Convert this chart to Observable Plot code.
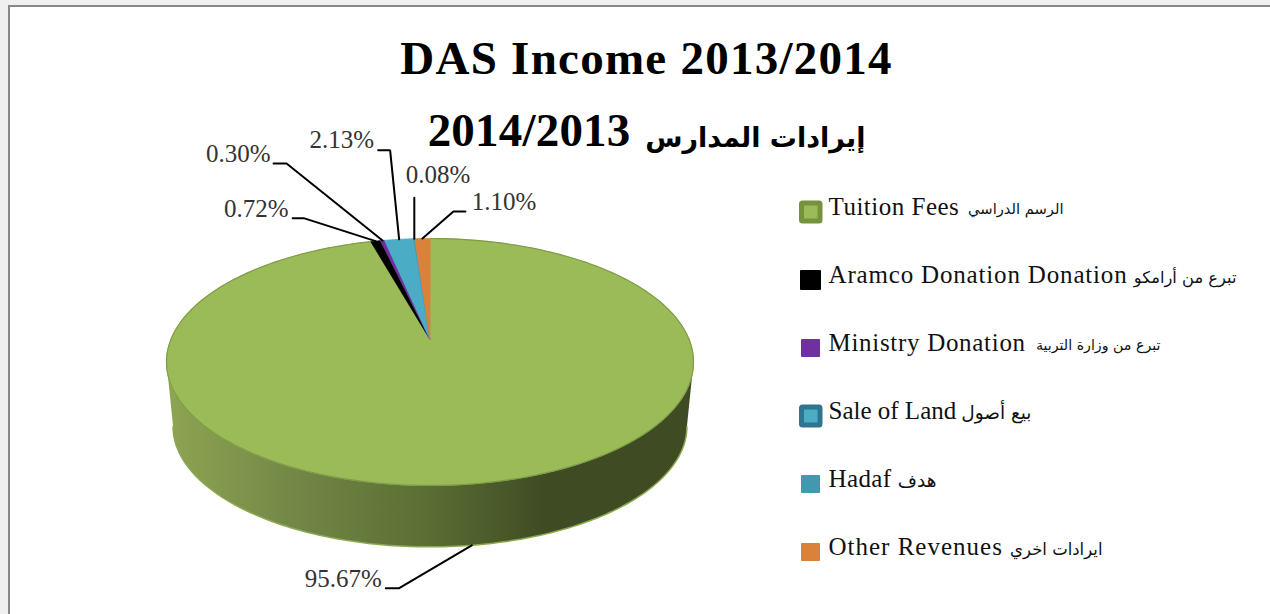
<!DOCTYPE html>
<html>
<head>
<meta charset="utf-8">
<script src="https://cdn.jsdelivr.net/npm/d3@7"></script>
<script src="https://cdn.jsdelivr.net/npm/@observablehq/plot@0.6"></script>
<style>
html,body{margin:0;padding:0;background:#f0f0f0;overflow:hidden}
svg{display:block}
</style>
</head>
<body>
<script>
// ---- data ----
const categories = ["Tuition Fees","Aramco Donation Donation","Ministry Donation","Sale of Land","Hadaf","Other Revenues"];
const arabicNames = ["الرسم الدراسي","تبرع من أرامكو","تبرع من وزارة التربية","بيع أصول","هدف","ايرادات اخري"];
const shares = [95.67,0.72,0.30,2.13,0.08,1.10];
const sliceColors = ["#9bbb59","#000000","#7030a0","#4bacc6","#4198af","#d9823c"];
const swatchEdges = ["#76923c","#000000","#7030a0","#31748f","#4198af","#d9823c"];
const titleLine1 = "DAS Income 2013/2014";
const titleLine2Number = "2014/2013";
const titleLine2Arabic = "إيرادات المدارس";

// ---- layout of the picture ----
const cx=429.5, cy=339, rX=259.1, rY=119.4, k=0.182;   // perspective of the top disc
const wallShrink=0.975, wallCy=426, discCy=361.5;
const elbows=[[-73,43,-86,43],[-72,-23,-83,-23],[-96,-77,-109,-77],[-9,-89,-21,-89],[0,-41,0,-41],[31,-27,43,-27]];
const labelAnchors=[[-4,-9],[-4,-9],[-3,-10],[-4,-10],[56,-23],[71,-10]];
const legendRow=i=>212+68*i;
const arabicEnds=[1063,1236,1160,1031,936,1102];
const arabicSizes=[14.7,16.3,14.2,18.5,18.5,16.5];
const legendSpacing=[.5,.83,.7,0,.4,1];
const framed=i=>i===0||i===3;

function project(deg,bottom=false){
  const t=deg*Math.PI/180,u=Math.sin(t),v=Math.cos(t),w=1+k*v;
  const X=rX*u/w, Y=cy-rY*v/w;
  return bottom?{x:cx+X*wallShrink,y:wallCy+(Y-discCy)*wallShrink}:{x:cx+X,y:Y};
}
// slices, clockwise from 12 o'clock
const total=d3.sum(shares);
const cum=d3.cumsum(shares);
const slices=categories.map((c,i)=>({category:c,start:(cum[i]-shares[i])/total*360,end:cum[i]/total*360}));
const slicePts=slices.flatMap(s=>{
  const n=Math.max(2,Math.ceil((s.end-s.start)*2));
  const pts=[{x:cx,y:cy,category:s.category}];
  for(let j=0;j<=n;j++) pts.push({...project(s.start+(s.end-s.start)*j/n),category:s.category});
  pts.push({x:cx,y:cy,category:s.category});
  return pts;
});
// side wall
const thR=Math.acos(-k)*180/Math.PI, thL=360-thR;
const topArc=d3.range(thR,thL+.01,1).map(a=>project(a));
const botArc=d3.range(thL,thR-.01,-1).map(a=>project(a,true));
const wall=[...topArc,...botArc,topArc[0]];
const wallEdge=[...botArc];
// leaders
const leaders=slices.flatMap((s,i)=>{
  const a=(s.start+s.end)/2, p=project(a,i===0);
  const e=elbows[i];
  return [{i,x:p.x,y:p.y},{i,x:p.x+e[0],y:p.y+e[1]},{i,x:p.x+e[2],y:p.y+e[3]}];
});
const labels=shares.map((v,i)=>{
  const end=leaders[i*3+2],o=labelAnchors[i];
  return {text:v.toFixed(2)+"%",x:end.x+o[0],y:end.y+o[1]};
});
const legend=categories.map((c,i)=>({category:c,arabic:arabicNames[i],y:legendRow(i),i}));

const gradient=()=>{
  const d=d3.create("svg:defs");
  const g=d.append("linearGradient").attr("id","wallG").attr("gradientUnits","userSpaceOnUse")
    .attr("x1",166).attr("x2",693).attr("y1",0).attr("y2",0);
  [[0,"#8ea552"],[.25,"#728646"],[.5,"#5a6d33"],[.72,"#3f4b23"],[1,"#3f4b23"]]
    .forEach(([o,c])=>g.append("stop").attr("offset",o).attr("stop-color",c));
  return d.node();
};

const plot=Plot.plot({
  width:1270,height:614,margin:0,
  style:{background:"transparent",fontFamily:"'Liberation Serif',serif"},
  x:{domain:[0,1270],range:[0,1270],axis:null},
  y:{domain:[0,614],range:[0,614],axis:null},
  color:{domain:categories,range:sliceColors},
  marks:[
    gradient,
    // paper and frame
    Plot.rect([{}],{x1:()=>9,x2:()=>1270,y1:()=>6,y2:()=>614,fill:"#fff"}),
    Plot.ruleY([5.5],{x1:8,x2:1270,stroke:"#888",strokeWidth:2}),
    Plot.ruleX([8.5],{y1:5,y2:614,stroke:"#888",strokeWidth:2}),
    // pie
    Plot.line(wall,{x:"x",y:"y",fill:"url(#wallG)",stroke:"none"}),
    Plot.line(wallEdge,{x:"x",y:"y",stroke:"#8aa84e",strokeWidth:1.5}),
    Plot.line(slicePts,{x:"x",y:"y",z:"category",fill:"category",stroke:"category",strokeWidth:.8}),
    Plot.line(d3.range(0,344.4,1).map(a=>project(a)),{x:"x",y:"y",stroke:"#7f9c47",strokeWidth:1.2}),
    // leaders and value labels
    Plot.line(leaders,{x:"x",y:"y",z:"i",stroke:"#000",strokeWidth:2,strokeLinejoin:"miter"}),
    Plot.text(labels,{x:"x",y:"y",text:"text",textAnchor:"end",fontSize:25,fill:"#333"}),
    // title
    Plot.text([titleLine1],{x:()=>646,y:()=>58,text:d=>d,fontSize:47,fontWeight:"bold",fill:"#000"}),
    Plot.text([titleLine2Number],{x:()=>630,y:()=>130,text:d=>d,textAnchor:"end",fontSize:47,fontWeight:"bold",fill:"#000"}),
    Plot.text([titleLine2Arabic],{x:()=>865,y:()=>138,text:d=>d,textAnchor:"end",fontSize:27,fontWeight:"bold",fill:"#000",fontFamily:"'DejaVu Sans'"}),
    // legend
    Plot.rect(legend,{x1:d=>framed(d.i)?801.5:(d.i===1?800:801),x2:d=>framed(d.i)?820:(d.i===1?821:820),
      y1:d=>d.y-(framed(d.i)?9:(d.i===1?10:9)),y2:d=>d.y+(framed(d.i)?9:(d.i===1?10:9)),
      fill:"category",stroke:d=>swatchEdges[d.i],strokeWidth:d=>framed(d.i)?5:0,rx:1}),
    Plot.text(legend,{x:()=>828,y:d=>d.y-6,text:"category",textAnchor:"start",fontSize:25,fill:"#111"}),
    ...legend.map(d=>Plot.text([d],{x:()=>arabicEnds[d.i],y:()=>d.y-3,text:"arabic",textAnchor:"end",fontSize:arabicSizes[d.i],fill:"#111",fontFamily:"'DejaVu Sans'"}))
  ]
});
// tracking of the wide original typeface
d3.select(plot).selectAll("text").each(function(){
  const t=this.textContent, i=categories.indexOf(t);
  if(i>=0) this.style.letterSpacing=legendSpacing[i]+"px";
  if(t===titleLine1) this.style.letterSpacing="1.25px";
  if(t===titleLine2Number) this.style.letterSpacing=".2px";
});
document.body.append(plot);
</script>
</body>
</html>
